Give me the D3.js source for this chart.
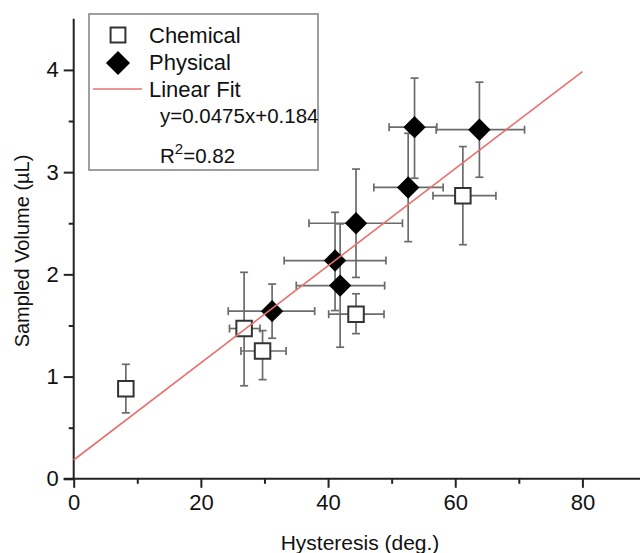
<!DOCTYPE html>
<html>
<head>
<meta charset="utf-8">
<script src="https://cdn.jsdelivr.net/npm/d3@7"></script>
<style>
  body { margin: 0; background: #fff; }
  svg text { font-family: "Liberation Sans", Arial, sans-serif; fill: #111; }
</style>
</head>
<body>
<svg id="chart" width="640" height="553"></svg>
<script>
// chemical series (open squares)
var chemX   = [8.2, 26.8, 29.7, 44.4, 61.2];
var chemY   = [0.88, 1.47, 1.25, 1.61, 2.77];
var chemXLo = [8.2, 24.5, 26.3, 40.1, 56.5];
var chemXHi = [8.2, 29.3, 33.4, 48.8, 66.4];
var chemYLo = [0.645, 0.91, 0.97, 1.42, 2.29];
var chemYHi = [1.12, 2.02, 1.45, 1.81, 3.25];

// physical series (filled diamonds)
var physX   = [31.2, 41.1, 41.9, 44.4, 52.6, 53.6, 63.8];
var physY   = [1.64, 2.135, 1.89, 2.50, 2.85, 3.44, 3.415];
var physXLo = [24.3, 33.1, 35.0, 37.0, 47.2, 49.6, 57.0];
var physXHi = [37.9, 49.1, 48.9, 51.7, 58.1, 57.1, 70.9];
var physYLo = [1.375, 1.646, 1.287, 1.97, 2.32, 2.94, 2.95];
var physYHi = [1.905, 2.607, 2.494, 3.03, 3.38, 3.92, 3.88];

// linear fit
var fitSlope = 0.0475;
var fitIntercept = 0.184;
var fitRange = [0, 80];

var xTicks = [0, 20, 40, 60, 80];
var xMinor = [10, 30, 50, 70, 90];
var yTicks = [0, 1, 2, 3, 4];
var yMinor = [0.5, 1.5, 2.5, 3.5];

var legendLabels = ["Chemical", "Physical", "Linear Fit"];

var svg = d3.select("#chart");

var x = d3.scaleLinear().domain([0, 90]).range([73.7, 646]);
var y = d3.scaleLinear().domain([0, 4.5]).range([478.8, 18.8]);

function zip(xs, ys, xlo, xhi, ylo, yhi) {
  return xs.map(function(v, i) {
    return { x: v, y: ys[i], xlo: xlo[i], xhi: xhi[i], ylo: ylo[i], yhi: yhi[i] };
  });
}
var chem = zip(chemX, chemY, chemXLo, chemXHi, chemYLo, chemYHi);
var phys = zip(physX, physY, physXLo, physXHi, physYLo, physYHi);

// axes
var xAxis = svg.append("g").attr("transform", "translate(0," + y(0) + ")");
xAxis.call(d3.axisBottom(x).tickValues(xMinor).tickSize(5).tickFormat(""));
xAxis.call(function(g) {
  var major = g.append("g").call(d3.axisBottom(x).tickValues(xTicks).tickSize(9).tickPadding(7).tickFormat(d3.format("d")));
  major.select(".domain").remove();
  major.selectAll("text").attr("font-size", 22).attr("font-family", null);
});
xAxis.selectAll("path.domain").attr("stroke", "#222").attr("stroke-width", 2)
  .attr("d", "M63.7,0H646");
xAxis.selectAll("line").attr("stroke", "#222").attr("stroke-width", 2);

var yAxis = svg.append("g").attr("transform", "translate(" + x(0) + ",0)");
yAxis.call(d3.axisLeft(y).tickValues(yMinor).tickSize(5).tickFormat(""));
yAxis.call(function(g) {
  var major = g.append("g").call(d3.axisLeft(y).tickValues(yTicks).tickSize(10).tickPadding(5).tickFormat(d3.format("d")));
  major.select(".domain").remove();
  major.selectAll("text").attr("font-size", 22).attr("font-family", null);
});
yAxis.selectAll("path.domain").attr("stroke", "#222").attr("stroke-width", 2)
  .attr("d", "M0," + y(0) + "V" + y(4.5));
yAxis.selectAll("line").attr("stroke", "#222").attr("stroke-width", 2);

// axis titles
svg.append("text")
  .attr("x", 360).attr("y", 550)
  .attr("text-anchor", "middle")
  .attr("font-size", 21)
  .text("Hysteresis (deg.)");
svg.append("text")
  .attr("transform", "translate(29,251) rotate(-90)")
  .attr("text-anchor", "middle")
  .attr("font-size", 20)
  .text("Sampled Volume (\u00b5L)");

// error bars
function errorBars(data) {
  var g = svg.append("g").attr("stroke", "#6b6b6b").attr("stroke-width", 1.7).attr("fill", "none");
  data.forEach(function(d) {
    g.append("line").attr("x1", x(d.x)).attr("x2", x(d.x)).attr("y1", y(d.ylo)).attr("y2", y(d.yhi));
    g.append("line").attr("x1", x(d.x) - 4).attr("x2", x(d.x) + 4).attr("y1", y(d.ylo)).attr("y2", y(d.ylo));
    g.append("line").attr("x1", x(d.x) - 4).attr("x2", x(d.x) + 4).attr("y1", y(d.yhi)).attr("y2", y(d.yhi));
    if (d.xhi > d.xlo) {
      g.append("line").attr("x1", x(d.xlo)).attr("x2", x(d.xhi)).attr("y1", y(d.y)).attr("y2", y(d.y));
      g.append("line").attr("x1", x(d.xlo)).attr("x2", x(d.xlo)).attr("y1", y(d.y) - 4).attr("y2", y(d.y) + 4);
      g.append("line").attr("x1", x(d.xhi)).attr("x2", x(d.xhi)).attr("y1", y(d.y) - 4).attr("y2", y(d.y) + 4);
    }
  });
}
errorBars(chem);
errorBars(phys);

// markers
var sq = d3.symbol().type(d3.symbolSquare).size(240);
var dia = d3.symbol().type(d3.symbolSquare).size(250);

svg.append("g").selectAll("path")
  .data(chem).enter().append("path")
  .attr("d", sq)
  .attr("transform", function(d) { return "translate(" + x(d.x) + "," + y(d.y) + ")"; })
  .attr("fill", "#fff").attr("stroke", "#333").attr("stroke-width", 2);

svg.append("g").selectAll("path")
  .data(phys).enter().append("path")
  .attr("d", dia)
  .attr("transform", function(d) { return "translate(" + x(d.x) + "," + y(d.y) + ") rotate(45)"; })
  .attr("fill", "#000");

// fit line
svg.append("line")
  .attr("x1", x(fitRange[0])).attr("y1", y(fitIntercept + fitSlope * fitRange[0]))
  .attr("x2", x(fitRange[1])).attr("y2", y(fitIntercept + fitSlope * fitRange[1]))
  .attr("stroke", "#e8706f").attr("stroke-width", 1.6);

// legend
var legend = svg.append("g").attr("class", "legend");
legend.append("rect")
  .attr("x", 89).attr("y", 14).attr("width", 229).attr("height", 156)
  .attr("fill", "#fff").attr("stroke", "#808080").attr("stroke-width", 1.5);
legend.append("path")
  .attr("d", d3.symbol().type(d3.symbolSquare).size(220))
  .attr("transform", "translate(118,35)")
  .attr("fill", "#fff").attr("stroke", "#333").attr("stroke-width", 2);
legend.append("path")
  .attr("d", d3.symbol().type(d3.symbolSquare).size(290))
  .attr("transform", "translate(118,63) rotate(45)")
  .attr("fill", "#000");
legend.append("line")
  .attr("x1", 93).attr("x2", 142).attr("y1", 89).attr("y2", 89)
  .attr("stroke", "#e8706f").attr("stroke-width", 1.6);
legend.selectAll("text.lab")
  .data(legendLabels).enter().append("text")
  .attr("class", "lab")
  .attr("x", 149)
  .attr("y", function(d, i) { return 43 + i * 27; })
  .attr("font-size", 22)
  .text(function(d) { return d; });
legend.append("text")
  .attr("x", 160).attr("y", 123)
  .attr("font-size", 20.5)
  .text("y=" + fitSlope + "x+" + fitIntercept);
var r2 = legend.append("text")
  .attr("x", 160).attr("y", 163)
  .attr("font-size", 20.5);
r2.append("tspan").text("R");
r2.append("tspan").attr("dy", -9).attr("font-size", 15).text("2");
r2.append("tspan").attr("dy", 9).text("=0.82");
</script>
</body>
</html>
